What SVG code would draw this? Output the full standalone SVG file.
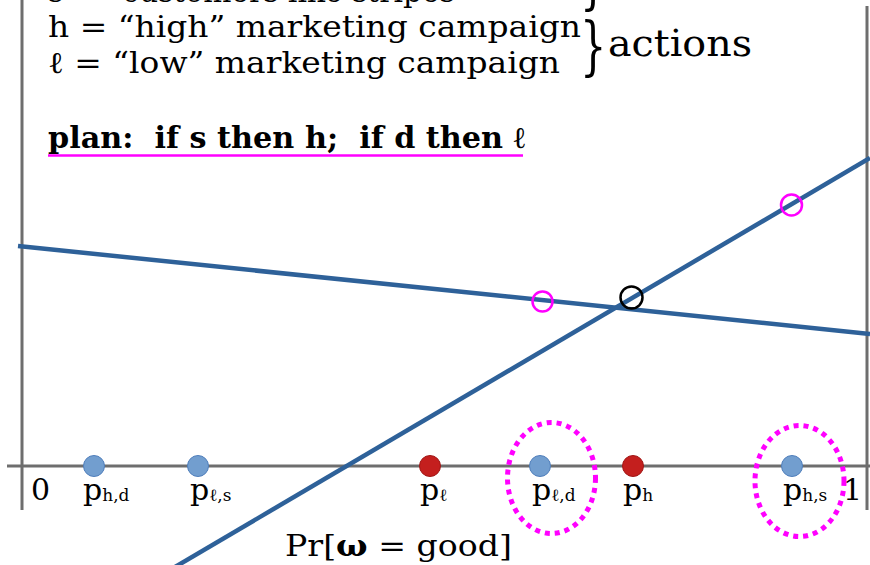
<svg xmlns="http://www.w3.org/2000/svg" width="870" height="565" viewBox="0 0 870 565">
<defs>
<style>
.t{font-family:"DejaVu Serif","Liberation Serif",serif;fill:#000;}
.big{font-size:30px;}
.sub{font-size:17px;}
.axis{stroke:#6e6e6e;stroke-width:3;fill:none;}
.ln{stroke:#2E6199;stroke-width:4.5;fill:none;}
.blue{fill:#729ECF;stroke:#4F7EBB;stroke-width:1;}
.red{fill:#C41F1E;stroke:#A01716;stroke-width:1;}
.mc{fill:none;stroke:#FF00FF;stroke-width:2.5;}
.dots{fill:none;stroke:#FF00FF;stroke-width:5;stroke-dasharray:5 5;}
</style>
</defs>
<rect width="870" height="565" fill="#fff"/>

<g id="axes">
<line class="axis" x1="22" y1="0" x2="22" y2="510"/>
<line class="axis" x1="867" y1="6" x2="867" y2="510"/>
<line class="axis" x1="7" y1="466" x2="870" y2="466"/>
</g>

<g id="header">
<text class="t big" x="48" y="2" textLength="422" lengthAdjust="spacingAndGlyphs">s = “customers like stripes”</text>
<text class="t big" x="48" y="37" textLength="533" lengthAdjust="spacingAndGlyphs">h = “high” marketing campaign</text>
<text class="t big" x="48" y="73" textLength="512" lengthAdjust="spacingAndGlyphs">ℓ = “low” marketing campaign</text>
<text class="t" transform="translate(580,2) scale(0.65,1)" font-size="64">}</text>
<text class="t" transform="translate(580,68) scale(0.65,1)" font-size="64">}</text>
<text class="t" x="608" y="56" font-size="38" textLength="144" lengthAdjust="spacingAndGlyphs">actions</text>
<text class="t big" x="48" y="148" font-weight="bold" xml:space="preserve" style="white-space:pre" textLength="477" lengthAdjust="spacingAndGlyphs">plan:  if s then h;  if d then ℓ</text>
<line x1="48" y1="155.5" x2="523" y2="155.5" stroke="#FF00FF" stroke-width="2.5"/>
</g>

<g id="connectors">
<line class="ln" x1="18" y1="246" x2="870" y2="334"/>
<line class="ln" x1="175" y1="567" x2="870" y2="158"/>
</g>

<g id="markers">
<circle class="mc" cx="542.5" cy="301.5" r="10"/>
<circle cx="631.5" cy="297.5" r="11" fill="none" stroke="#000" stroke-width="2.5"/>
<circle class="mc" cx="791.5" cy="205" r="10.5"/>
</g>

<g id="node-p-hd">
<circle class="blue" cx="94" cy="466" r="10.5"/>
<text class="t big" x="83" y="500">p<tspan class="sub" dy="1">h,d</tspan></text>
</g>
<g id="node-p-ls">
<circle class="blue" cx="198" cy="466" r="10.5"/>
<text class="t big" x="190" y="500">p<tspan class="sub" dy="1">ℓ,s</tspan></text>
</g>
<g id="node-p-l">
<circle class="red" cx="430" cy="466" r="10.5"/>
<text class="t big" x="420" y="500">p<tspan class="sub" dy="1">ℓ</tspan></text>
</g>
<g id="node-p-ld">
<ellipse class="dots" cx="551.5" cy="478" rx="44" ry="55.5"/>
<circle class="blue" cx="540" cy="466" r="10.5"/>
<text class="t big" x="532" y="500">p<tspan class="sub" dy="1">ℓ,d</tspan></text>
</g>
<g id="node-p-h">
<circle class="red" cx="633" cy="466" r="10.5"/>
<text class="t big" x="623" y="500">p<tspan class="sub" dy="1">h</tspan></text>
</g>
<g id="node-p-hs">
<ellipse class="dots" cx="799.5" cy="481" rx="44.5" ry="55.5"/>
<circle class="blue" cx="792" cy="466" r="10.5"/>
<text class="t big" x="783" y="500">p<tspan class="sub" dy="1">h,s</tspan></text>
</g>

<g id="labels">
<text class="t big" x="31" y="500">0</text>
<text class="t big" x="843" y="500">1</text>
<text class="t big" x="285" y="556" textLength="227" lengthAdjust="spacingAndGlyphs">Pr[<tspan font-weight="bold">ω</tspan> = good]</text>
</g>
</svg>
